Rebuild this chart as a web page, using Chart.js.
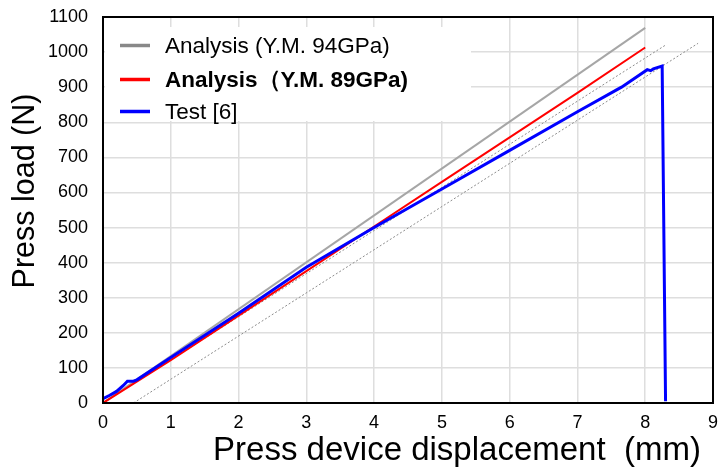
<!DOCTYPE html>
<html>
<head>
<meta charset="utf-8">
<script src="https://cdn.jsdelivr.net/npm/chart.js@4/dist/chart.umd.min.js"></script>
<style>
html,body{margin:0;padding:0;background:#fff;}
#wrap{width:718px;height:470px;position:relative;}
</style>
</head>
<body>
<div id="wrap"><canvas id="c" width="718" height="470"></canvas></div>
<script>
// ---- data ----
const xTicks = [0,1,2,3,4,5,6,7,8,9];
const yTicks = [0,100,200,300,400,500,600,700,800,900,1000,1100];

const seriesNames = ['Analysis (Y.M. 94GPa)', 'Analysis\uFF08Y.M. 89GPa)', 'Test [6]'];
const xTitle = 'Press device displacement  (mm)';
const yTitle = 'Press load (N)';

const ana94X = [0, 8];
const ana94Y = [0, 1069];

const ana89X = [0, 1, 2, 3, 4, 5, 6, 7, 8];
const ana89Y = [0, 122, 249, 376, 503, 630, 757, 884, 1013];

const testX = [0, 0.1, 0.2, 0.3, 0.36, 0.45, 0.5, 1, 2, 3, 4, 5, 6, 7, 7.65, 8.03, 8.08, 8.12, 8.25, 8.3];
const testY = [12, 22, 33, 50, 62, 62, 66, 130, 256, 387, 500, 610, 720, 830, 900, 950, 947, 952, 960, 5];

const refAX = [0, 8.3];
const refAY = [0, 1020];
const refBX = [0.45, 8.78];
const refBY = [0, 1025];

const FONT = '"Liberation Sans", Arial, sans-serif';

function pts(xs, ys){ return xs.map((x,i)=>({x:x, y:ys[i]})); }

const legendColors = ['#888888', '#ff0000', '#0000ff'];
const legendBold = [false, true, false];

const boxPlugin = {
  id: 'boxAndLegend',
  afterDatasetsDraw(chart){
    const ctx = chart.ctx, a = chart.chartArea;
    ctx.save();
    // legend background
    ctx.fillStyle = '#ffffff';
    ctx.fillRect(a.left + 2, a.top + 10, 366, 94);
    const rows = [a.top + 28.5, a.top + 62.5, a.top + 94.5];
    for (let i = 0; i < 3; i++) {
      ctx.strokeStyle = legendColors[i];
      ctx.lineWidth = 3.5;
      ctx.beginPath();
      ctx.moveTo(a.left + 17, rows[i]);
      ctx.lineTo(a.left + 47, rows[i]);
      ctx.stroke();
      ctx.fillStyle = '#000';
      ctx.font = (legendBold[i] ? 'bold ' : '') + '22.5px ' + FONT;
      ctx.textBaseline = 'middle';
      ctx.textAlign = 'left';
      ctx.fillText(seriesNames[i], a.left + 62, rows[i] + 1);
    }
    // frame
    ctx.strokeStyle = '#000';
    ctx.lineWidth = 2;
    ctx.strokeRect(a.left, a.top, a.right - a.left, a.bottom - a.top);
    // axis titles
    ctx.fillStyle = '#000';
    ctx.textAlign = 'center';
    ctx.textBaseline = 'middle';
    ctx.font = '33px ' + FONT;
    ctx.fillText(xTitle, 457, 451);
    ctx.translate(26, 191);
    ctx.rotate(-Math.PI / 2);
    ctx.font = '30.5px ' + FONT;
    ctx.fillText(yTitle, 0, 0);
    ctx.restore();
  }
};

new Chart(document.getElementById('c'), {
  type: 'line',
  data: {
    datasets: [
      { label: seriesNames[2], data: pts(testX, testY), borderColor: '#0000ff', borderWidth: 3, pointRadius: 0, tension: 0, order: 0 },
      { label: seriesNames[1], data: pts(ana89X, ana89Y), borderColor: '#ff0000', borderWidth: 2, pointRadius: 0, tension: 0, order: 1 },
      { label: seriesNames[0], data: pts(ana94X, ana94Y), borderColor: '#a6a6a6', borderWidth: 2, pointRadius: 0, tension: 0, order: 2 },
      { label: 'ref1', data: pts(refAX, refAY), borderColor: '#8c8c8c', borderWidth: 1, borderDash: [2,2], pointRadius: 0, order: 3 },
      { label: 'ref2', data: pts(refBX, refBY), borderColor: '#8c8c8c', borderWidth: 1, borderDash: [2,2], pointRadius: 0, order: 3 }
    ]
  },
  options: {
    responsive: false,
    animation: false,
    devicePixelRatio: 1,
    layout: { padding: { top: 17, right: 5, left: 0, bottom: 0 } },
    plugins: { legend: { display: false }, tooltip: { enabled: false } },
    scales: {
      x: {
        type: 'linear', min: 0, max: 9,
        afterBuildTicks: s => { s.ticks = xTicks.map(v => ({value: v})); },
        afterFit: s => { s.height = 67; s.paddingLeft = 0; s.paddingRight = 0; },
        grid: { color: '#dedede', lineWidth: 1.5, drawTicks: false },
        border: { display: false },
        ticks: { color: '#000', font: { family: FONT, size: 18 }, padding: 9, maxRotation: 0, callback: v => String(v) },
        title: { display: false }
      },
      y: {
        type: 'linear', min: 0, max: 1100,
        afterBuildTicks: s => { s.ticks = yTicks.map(v => ({value: v})); },
        afterFit: s => { s.width = 103; s.paddingTop = 0; s.paddingBottom = 0; },
        grid: { color: '#dedede', lineWidth: 1.5, drawTicks: false },
        border: { display: false },
        ticks: { color: '#000', font: { family: FONT, size: 18 }, padding: 15, callback: v => String(v) },
        title: { display: false }
      }
    }
  },
  plugins: [boxPlugin]
});
</script>
</body>
</html>
